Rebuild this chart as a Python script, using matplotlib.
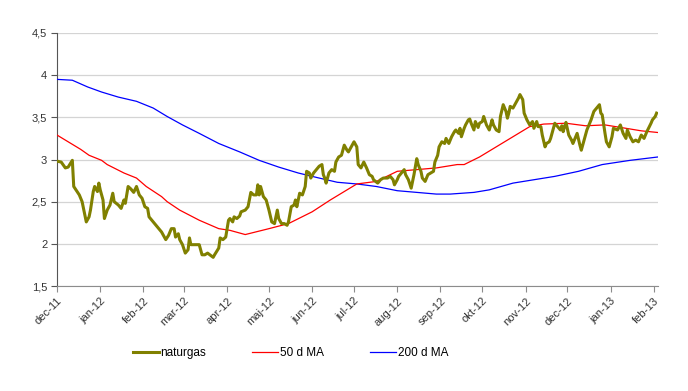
import pandas as pd
import matplotlib
matplotlib.use("Agg")
from matplotlib import pyplot as plt
from matplotlib.lines import Line2D

plt.rcParams['font.family'] = ['Liberation Sans', 'DejaVu Sans']

# naturgas daily price
gas_dates = [
    "2011-12-01", "2011-12-04", "2011-12-07", "2011-12-09", "2011-12-12", "2011-12-13",
    "2011-12-17", "2011-12-19", "2011-12-22", "2011-12-24", "2011-12-25", "2011-12-27",
    "2011-12-28", "2011-12-30", "2011-12-31",
    "2012-01-01", "2012-01-03", "2012-01-04", "2012-01-06", "2012-01-08", "2012-01-10",
    "2012-01-11", "2012-01-14", "2012-01-16", "2012-01-18", "2012-01-19", "2012-01-21",
    "2012-01-23", "2012-01-25", "2012-01-27", "2012-01-29", "2012-01-31",
    "2012-02-02", "2012-02-04", "2012-02-05", "2012-02-09", "2012-02-12", "2012-02-14",
    "2012-02-17", "2012-02-19", "2012-02-21", "2012-02-23", "2012-02-24", "2012-02-26",
    "2012-02-27", "2012-02-29",
    "2012-03-02", "2012-03-04", "2012-03-05", "2012-03-06", "2012-03-09", "2012-03-12",
    "2012-03-14", "2012-03-16", "2012-03-18", "2012-03-22", "2012-03-23", "2012-03-26",
    "2012-03-27", "2012-03-29", "2012-03-31",
    "2012-04-02", "2012-04-03", "2012-04-05", "2012-04-06", "2012-04-08", "2012-04-10",
    "2012-04-11", "2012-04-14", "2012-04-16", "2012-04-18", "2012-04-20", "2012-04-22",
    "2012-04-23", "2012-04-24", "2012-04-25", "2012-04-27", "2012-04-29",
    "2012-05-01", "2012-05-03", "2012-05-05", "2012-05-07", "2012-05-08", "2012-05-10",
    "2012-05-12", "2012-05-14", "2012-05-15", "2012-05-17", "2012-05-19", "2012-05-20",
    "2012-05-21", "2012-05-23", "2012-05-25", "2012-05-27", "2012-05-28", "2012-05-30",
    "2012-05-31",
    "2012-06-02", "2012-06-03", "2012-06-06", "2012-06-08", "2012-06-09", "2012-06-10",
    "2012-06-11", "2012-06-13", "2012-06-15", "2012-06-17", "2012-06-18", "2012-06-20",
    "2012-06-22", "2012-06-24", "2012-06-26", "2012-06-27", "2012-06-29",
    "2012-07-01", "2012-07-03", "2012-07-04", "2012-07-06", "2012-07-08", "2012-07-10",
    "2012-07-12", "2012-07-14", "2012-07-15", "2012-07-18", "2012-07-20", "2012-07-22",
    "2012-07-25", "2012-07-27", "2012-07-29", "2012-07-30",
    "2012-08-01", "2012-08-02", "2012-08-03", "2012-08-06", "2012-08-07", "2012-08-09",
    "2012-08-11", "2012-08-13", "2012-08-15", "2012-08-16", "2012-08-18", "2012-08-19",
    "2012-08-21", "2012-08-23", "2012-08-25", "2012-08-27", "2012-08-28", "2012-08-30",
    "2012-08-31",
    "2012-09-02", "2012-09-04", "2012-09-05", "2012-09-07", "2012-09-09", "2012-09-11",
    "2012-09-12", "2012-09-14", "2012-09-15", "2012-09-16", "2012-09-18", "2012-09-19",
    "2012-09-21", "2012-09-22", "2012-09-23", "2012-09-25", "2012-09-26", "2012-09-28",
    "2012-09-29",
    "2012-10-01", "2012-10-02", "2012-10-04", "2012-10-06", "2012-10-08", "2012-10-09",
    "2012-10-11", "2012-10-13", "2012-10-14", "2012-10-16", "2012-10-18", "2012-10-19",
    "2012-10-20", "2012-10-21", "2012-10-23", "2012-10-25", "2012-10-27", "2012-10-28",
    "2012-10-30", "2012-10-31",
    "2012-11-02", "2012-11-04", "2012-11-06", "2012-11-07", "2012-11-09", "2012-11-10",
    "2012-11-12", "2012-11-13", "2012-11-15", "2012-11-16", "2012-11-18", "2012-11-19",
    "2012-11-21", "2012-11-22", "2012-11-24", "2012-11-26", "2012-11-27", "2012-11-28",
    "2012-11-29", "2012-11-30",
    "2012-12-02", "2012-12-04", "2012-12-05", "2012-12-07", "2012-12-08", "2012-12-10",
    "2012-12-11", "2012-12-13", "2012-12-15", "2012-12-17", "2012-12-18", "2012-12-20",
    "2012-12-22", "2012-12-24", "2012-12-25", "2012-12-26", "2012-12-28", "2012-12-29",
    "2012-12-31",
    "2013-01-02", "2013-01-03", "2013-01-06", "2013-01-08", "2013-01-10", "2013-01-12",
    "2013-01-13", "2013-01-15", "2013-01-17", "2013-01-19", "2013-01-21", "2013-01-23",
    "2013-01-25", "2013-01-27", "2013-01-30", "2013-01-31", "2013-02-02", "2013-02-03",
]
gas_values = [
    2.98, 2.97, 2.90, 2.91, 2.99, 2.68,
    2.58, 2.50, 2.26, 2.32, 2.40, 2.62,
    2.68, 2.62, 2.72,
    2.64, 2.52, 2.30, 2.40, 2.46, 2.60,
    2.50, 2.46, 2.42, 2.52, 2.48, 2.68,
    2.65, 2.61, 2.68, 2.58, 2.54,
    2.44, 2.42, 2.32, 2.24, 2.18, 2.14,
    2.05, 2.10, 2.18, 2.18, 2.08, 2.12,
    2.05, 1.99,
    1.89, 1.93, 2.07, 1.99, 1.99, 1.99,
    1.87, 1.87, 1.89, 1.84, 1.87, 1.95,
    2.07, 2.05, 2.08,
    2.28, 2.30, 2.26, 2.32, 2.30, 2.33,
    2.38, 2.40, 2.44, 2.61, 2.58, 2.58,
    2.70, 2.58, 2.68, 2.56, 2.52,
    2.40, 2.26, 2.24, 2.40, 2.30, 2.24,
    2.24, 2.22, 2.26, 2.44, 2.46, 2.52,
    2.44, 2.60, 2.58, 2.68, 2.86, 2.84,
    2.78,
    2.84, 2.86, 2.92, 2.94, 2.82, 2.78,
    2.72, 2.84, 2.88, 2.86, 2.97, 3.03,
    3.05, 3.17, 3.11, 3.09, 3.15,
    3.21, 3.15, 2.94, 2.90, 2.97, 2.90,
    2.82, 2.80, 2.76, 2.72, 2.76, 2.78,
    2.78, 2.80, 2.76, 2.70,
    2.76, 2.80, 2.82, 2.88, 2.82, 2.76,
    2.66, 2.82, 3.01, 2.94, 2.86, 2.78,
    2.74, 2.82, 2.84, 2.86, 2.97, 3.05,
    3.15,
    3.21, 3.19, 3.25, 3.19, 3.27, 3.33,
    3.35, 3.31, 3.37, 3.27, 3.37, 3.41,
    3.47, 3.48, 3.43, 3.35, 3.45, 3.38,
    3.43,
    3.45, 3.51, 3.41, 3.35, 3.47, 3.41,
    3.35, 3.33, 3.51, 3.65, 3.57, 3.49,
    3.55, 3.63, 3.61, 3.67, 3.73, 3.77,
    3.71, 3.55,
    3.47, 3.41, 3.45, 3.37, 3.45, 3.39,
    3.39, 3.29, 3.15, 3.19, 3.21, 3.25,
    3.37, 3.43, 3.39, 3.35, 3.40, 3.33,
    3.39, 3.44,
    3.29, 3.23, 3.19, 3.27, 3.31, 3.17,
    3.11, 3.23, 3.35, 3.43, 3.47, 3.57,
    3.61, 3.65, 3.55, 3.53, 3.31, 3.21,
    3.15,
    3.27, 3.37, 3.35, 3.41, 3.31, 3.25,
    3.35, 3.27, 3.21, 3.23, 3.21, 3.29,
    3.25, 3.33, 3.43, 3.47, 3.51, 3.55,
]

# 50 day moving average
ma50_dates = [
    "2011-12-01", "2011-12-11", "2011-12-18", "2011-12-24", "2012-01-02", "2012-01-06",
    "2012-01-18", "2012-01-27", "2012-02-03", "2012-02-14", "2012-02-18", "2012-02-27",
    "2012-03-12", "2012-03-26", "2012-04-03", "2012-04-14", "2012-05-01", "2012-05-15",
    "2012-06-01", "2012-06-14", "2012-07-03", "2012-07-17", "2012-08-01", "2012-08-15",
    "2012-08-29", "2012-09-13", "2012-09-18", "2012-09-29", "2012-10-11", "2012-10-23",
    "2012-11-04", "2012-11-14", "2012-11-30", "2012-12-14", "2012-12-28", "2013-01-12",
    "2013-01-23", "2013-02-04",
]
ma50_values = [
    3.29, 3.19, 3.12, 3.05, 2.99, 2.94,
    2.84, 2.78, 2.68, 2.56, 2.50, 2.40,
    2.28, 2.18, 2.16, 2.11, 2.18, 2.24,
    2.38, 2.52, 2.71, 2.74, 2.86, 2.88,
    2.90, 2.94, 2.94, 3.03, 3.15, 3.27,
    3.39, 3.42, 3.43, 3.40, 3.41, 3.37,
    3.34, 3.32,
]

# 200 day moving average
ma200_dates = [
    "2011-12-01", "2011-12-12", "2011-12-23", "2012-01-02", "2012-01-14", "2012-01-27",
    "2012-02-08", "2012-02-18", "2012-02-29", "2012-03-12", "2012-03-26", "2012-04-10",
    "2012-04-24", "2012-05-08", "2012-05-22", "2012-06-06", "2012-06-19", "2012-07-03",
    "2012-07-17", "2012-08-01", "2012-08-15", "2012-08-29", "2012-09-08", "2012-09-25",
    "2012-10-06", "2012-10-23", "2012-11-07", "2012-11-22", "2012-12-09", "2012-12-26",
    "2013-01-15", "2013-02-04",
]
ma200_values = [
    3.95, 3.94, 3.86, 3.80, 3.74, 3.69,
    3.61, 3.51, 3.41, 3.31, 3.19, 3.09,
    2.99, 2.91, 2.84, 2.78, 2.73, 2.71,
    2.68, 2.63, 2.61, 2.59, 2.59, 2.61,
    2.64, 2.72, 2.76, 2.80, 2.86, 2.94,
    2.99, 3.03,
]

tick_dates = [
    "2011-12-01", "2012-01-01", "2012-02-01", "2012-03-01", "2012-04-01", "2012-05-01",
    "2012-06-01", "2012-07-01", "2012-08-01", "2012-09-01", "2012-10-01", "2012-11-01",
    "2012-12-01", "2013-01-01", "2013-02-01",
]
tick_labels = [
    "dec-11", "jan-12", "feb-12", "mar-12", "apr-12", "maj-12", "jun-12", "jul-12",
    "aug-12", "sep-12", "okt-12", "nov-12", "dec-12", "jan-13", "feb-13",
]
y_ticks = [1.5, 2, 2.5, 3, 3.5, 4, 4.5]
y_labels = ["1,5", "2", "2,5", "3", "3,5", "4", "4,5"]

GAS_COLOR = "#808000"
MA50_COLOR = "#ff0000"
MA200_COLOR = "#0000ff"

fig = plt.figure(figsize=(6.88, 3.91), dpi=100)
ax = fig.add_axes([57 / 688, 1 - 286 / 391, (658 - 57) / 688, (286 - 33) / 391])

ax.plot(pd.to_datetime(ma200_dates), ma200_values, color=MA200_COLOR, lw=0.9, zorder=3)
ax.plot(pd.to_datetime(ma50_dates), ma50_values, color=MA50_COLOR, lw=0.9, zorder=3)
ax.plot(pd.to_datetime(gas_dates), gas_values, color=GAS_COLOR, lw=2.2, zorder=4,
        solid_joinstyle="round")

ax.set_xlim(pd.Timestamp("2011-12-01"), pd.Timestamp("2013-02-04"))
ax.set_ylim(1.5, 4.5)

ax.set_yticks(y_ticks)
ax.set_yticklabels(y_labels)
ax.set_xticks(pd.to_datetime(tick_dates))
ax.set_xticklabels(tick_labels, rotation=45, ha="right", rotation_mode="anchor")

ax.grid(axis="y", color="#d4d4d4", lw=0.9, zorder=0)
ax.set_axisbelow(True)
for side in ["top", "right"]:
    ax.spines[side].set_visible(False)
ax.spines["left"].set_color("#555555")
ax.spines["bottom"].set_color("#8c8c8c")
ax.tick_params(axis="y", length=4, width=0.8, color="#555555", labelsize=8,
               labelcolor="#333333", pad=3)
ax.tick_params(axis="x", length=4, width=0.8, color="#8c8c8c", labelsize=8,
               labelcolor="#333333", pad=3)

handles = [
    Line2D([], [], color=GAS_COLOR, lw=2.2),
    Line2D([], [], color=MA50_COLOR, lw=0.9),
    Line2D([], [], color=MA200_COLOR, lw=0.9),
]
fig.legend(handles, ["naturgas", "50 d MA", "200 d MA"], loc="center",
           bbox_to_anchor=(0.422, 0.097), ncol=3, frameon=False, fontsize=8.5,
           handlelength=2.2, handletextpad=0.15, columnspacing=3.9)

fig.savefig("out.png", dpi=100)
